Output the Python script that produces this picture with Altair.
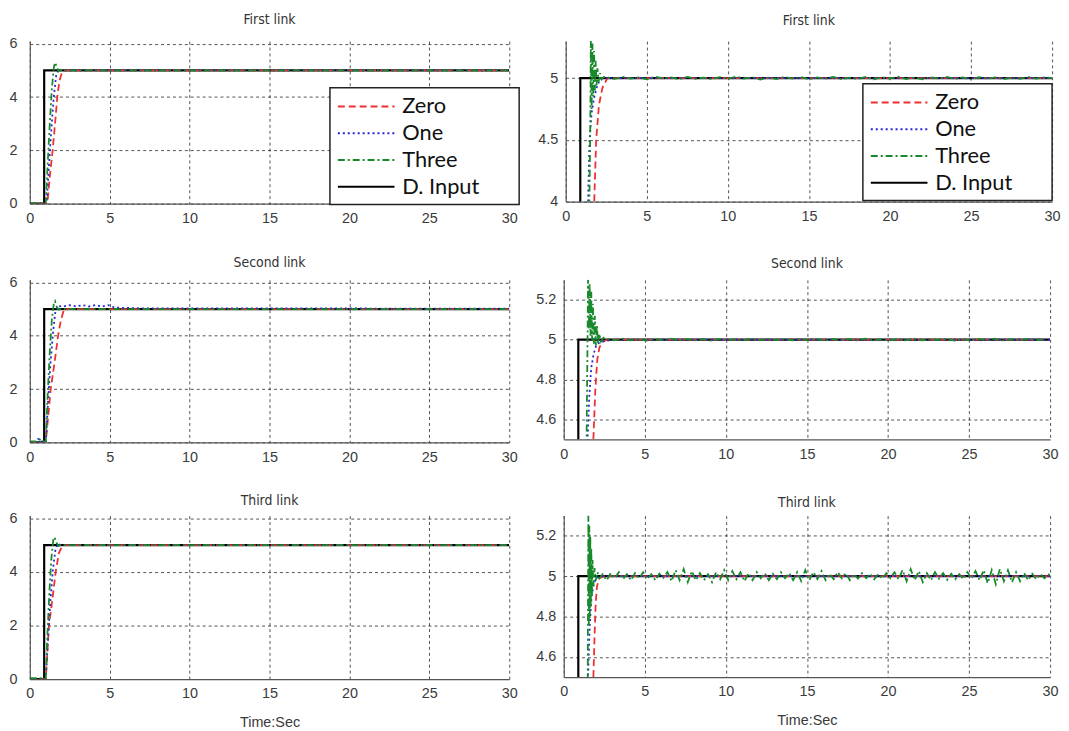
import altair as alt
import pandas as pd

# ---------------- data ----------------
SERIES = ["Zero", "One", "Three", "D. Input"]
COLORS = ["#ee3030", "#2424d8", "#198a2c", "#000000"]
DASHES = [[7, 4], [2, 3], [7, 3, 2, 3], [1, 0]]
WIDTHS = [1.8, 1.8, 1.8, 2.2]
DRAW_ORDER = ["D. Input", "Zero", "One", "Three"]

X_TICKS = [0, 5, 10, 15, 20, 25, 30]
LEFT_Y_TICKS = [0, 2, 4, 6]
R1_Y_TICKS = [4, 4.5, 5]
R23_Y_TICKS = [4.6, 4.8, 5, 5.2]
TITLES = ["First link", "Second link", "Third link"]
X_TITLE = "Time:Sec"

# desired input (same for every link)
INPUT = [(0, 0), (0.9, 0), (0.9, 5), (30, 5)]

# left column (full range 0..6)
L1_ZERO = [(0, 0), (1.1, 0), (1.25, 1.0), (1.43, 2.0), (1.58, 3.0), (1.72, 4.0), (1.85, 4.6), (2.0, 4.9), (2.15, 5.0), (30, 5.0)]
L1_ONE = [(0, 0), (1.05, 0), (1.2, 1.4), (1.35, 2.8), (1.5, 4.0), (1.65, 4.8), (1.8, 5.05), (1.95, 5.02), (2.2, 5.0), (30, 5.0)]
L1_THREE = [(0, 0.02), (1.0, 0.02), (1.12, 1.5), (1.25, 3.0), (1.38, 4.3), (1.5, 5.1), (1.58, 5.3), (1.68, 5.15), (1.8, 4.97), (1.95, 5.02), (2.2, 5.0), (30, 5.0)]

L2_ZERO = [(0, 0), (1.0, 0), (1.31, 2.0), (1.55, 3.0), (1.77, 4.0), (1.95, 4.6), (2.15, 5.0), (30, 5.0)]
L2_ONE = [(0, 0), (0.4, 0), (0.5, 0.12), (0.7, 0.12), (0.8, 0), (1.0, 0), (1.15, 1.6), (1.3, 3.0), (1.45, 4.1), (1.6, 4.9),
          (1.75, 5.12), (2.1, 5.1), (2.5, 5.15), (2.9, 5.1), (3.3, 5.15), (3.7, 5.1), (4.1, 5.15), (4.5, 5.1), (4.9, 5.15),
          (5.3, 5.06), (7, 5.03), (30, 5.02)]
L2_THREE = [(0, 0.03), (0.4, 0.03), (0.5, 0.1), (0.7, 0.1), (0.8, 0.03), (1.0, 0.03), (1.12, 1.8), (1.25, 3.4), (1.38, 4.6),
            (1.5, 5.2), (1.58, 5.3), (1.68, 5.1), (1.8, 4.98), (2.0, 5.02), (2.3, 5.0), (30, 5.0)]

L3_ZERO = [(0, 0), (1.0, 0), (1.2, 2.0), (1.42, 3.0), (1.62, 4.0), (1.82, 4.7), (2.05, 5.0), (30, 5.0)]
L3_ONE = [(0, 0), (1.0, 0), (1.15, 1.6), (1.3, 3.0), (1.45, 4.1), (1.6, 4.8), (1.75, 5.05), (1.95, 5.0), (30, 5.0)]
L3_THREE = [(0, 0.03), (1.0, 0.03), (1.1, 1.6), (1.22, 3.2), (1.35, 4.5), (1.47, 5.2), (1.55, 5.3), (1.65, 5.1), (1.8, 4.97),
            (2.0, 5.02), (2.3, 5.0), (30, 5.0)]

# right column (zoomed around the set point)
R1_ZERO = [(0, 0), (1.1, 0), (1.76, 4.0), (1.88, 4.5), (2.05, 4.78), (2.26, 4.92), (2.57, 5.0), (30, 5.0)]
R1_ONE = [(0, 0), (1.0, 0), (1.38, 4.0), (1.47, 4.5), (1.6, 4.72), (1.75, 4.84), (1.9, 4.92), (2.05, 4.97), (2.25, 5.0), (30, 5.0)]
R1_THREE = [(0, 0), (1.0, 0), (1.45, 3.9), (1.5, 4.4), (1.52, 4.7), (1.55, 5.3), (1.6, 4.75), (1.65, 5.28), (1.7, 4.85),
            (1.75, 5.22), (1.8, 4.9), (1.85, 5.14), (1.9, 4.94), (1.96, 5.08), (2.03, 4.97), (2.12, 5.04), (2.22, 4.99), (2.35, 5.01)]
R1_NOISE_START, R1_NOISE_STEP = 2.5, 0.5
R1_THREE_NOISE = [0.008, -0.006, 0.011, -0.004, 0.007, -0.01, 0.012, -0.003, 0.006, -0.009, 0.01, -0.005, 0.004, -0.008,
                  0.009, -0.006, 0.013, -0.004, 0.007, -0.011, 0.005, -0.007, 0.01, -0.003, 0.008, -0.009, 0.006, -0.005,
                  0.011, -0.008, 0.004, -0.006, 0.009, -0.01, 0.007, -0.004, 0.012, -0.007, 0.005, -0.009, 0.008, -0.003,
                  0.01, -0.006, 0.006, -0.011, 0.009, -0.005, 0.007, -0.008, 0.004, -0.006, 0.01, -0.004, 0.006, 0.0]

R2_ZERO = [(0, 0), (1.1, 0), (1.83, 4.5), (1.95, 4.75), (2.07, 4.9), (2.2, 4.96), (2.4, 4.99), (2.7, 5.0), (30, 5.0)]
R2_ONE = [(0, 0), (1.0, 0), (1.47, 4.5), (1.58, 4.72), (1.7, 4.86), (1.85, 4.93), (2.0, 4.97), (2.2, 4.985), (2.6, 4.995), (3.5, 5.0), (30, 5.0)]
R2_THREE = [(0, 0), (1.0, 0), (1.42, 4.6), (1.47, 5.0), (1.5, 5.3), (1.55, 5.05), (1.6, 5.28), (1.65, 5.02), (1.7, 5.24),
            (1.75, 5.0), (1.8, 5.18), (1.86, 4.98), (1.92, 5.12), (1.98, 4.97), (2.05, 5.07), (2.12, 4.98), (2.2, 5.03),
            (2.3, 4.99), (2.45, 5.01)]
R2_NOISE_START, R2_NOISE_STEP = 2.6, 0.5
R2_THREE_NOISE = [0.004, -0.003, 0.005, -0.004, 0.003, -0.005, 0.004, -0.002, 0.005, -0.003, 0.004, -0.004, 0.003, -0.005,
                  0.004, -0.003, 0.002, -0.004, 0.005, -0.003, 0.004, -0.002, 0.003, -0.004, 0.005, -0.003, 0.004, -0.005,
                  0.003, -0.002, 0.004, -0.004, 0.005, -0.003, 0.002, -0.004, 0.004, -0.003, 0.005, -0.004, 0.003, -0.002,
                  0.004, -0.005, 0.003, -0.003, 0.004, -0.002, 0.005, -0.004, 0.003, -0.003, 0.004, -0.002, 0.0]

R3_ZERO = [(0, 0), (1.1, 0), (1.83, 4.5), (1.9, 4.7), (1.97, 4.86), (2.05, 4.95), (2.2, 4.99), (2.5, 5.0), (30, 5.0)]
R3_ONE = [(0, 0), (1.0, 0), (1.5, 4.5), (1.6, 4.75), (1.72, 4.9), (1.85, 4.96), (2.0, 4.99), (2.3, 5.0), (30, 5.0)]
R3_THREE = [(0, 0), (1.0, 0), (1.48, 4.5), (1.52, 5.3), (1.55, 4.75), (1.58, 5.25), (1.61, 4.8), (1.64, 5.2), (1.67, 4.85),
            (1.7, 5.14), (1.74, 4.9), (1.78, 5.08), (1.83, 4.95), (1.9, 5.04), (1.98, 4.98), (2.08, 5.02), (2.2, 4.99)]
R3_NOISE_START, R3_NOISE_STEP = 2.4, 0.25
R3_THREE_NOISE = [0.01, -0.02, 0.015, -0.01, 0.02, -0.015, 0.01, -0.02,
                  0.015, -0.01, 0.02, -0.015, 0.01, -0.02, 0.012, -0.008,
                  0.02, -0.025, 0.03, -0.02, 0.035, -0.03, 0.025, -0.02,
                  0.015, -0.02, 0.01, -0.03, 0.02, -0.015, 0.03, -0.02,
                  0.025, -0.015, 0.02, -0.025, 0.015, -0.02, 0.02, -0.01,
                  0.015, -0.02, 0.012, -0.015, 0.02, -0.01, 0.015, -0.02,
                  0.02, -0.025, 0.03, -0.02, 0.02, -0.015, 0.025, -0.02,
                  0.012, -0.015, 0.02, -0.01, 0.015, -0.02, 0.01, -0.012,
                  0.015, -0.01, 0.012, -0.015, 0.01, -0.012, 0.015, -0.01,
                  0.02, -0.015, 0.03, -0.025, 0.035, -0.02, 0.025, -0.03,
                  0.015, -0.02, 0.02, -0.012, 0.015, -0.018, 0.012, -0.015,
                  0.01, -0.015, 0.02, -0.012, 0.025, -0.02, 0.03, -0.035,
                  0.03, -0.04, 0.035, -0.025, 0.03, -0.03, 0.02, -0.025,
                  0.015, -0.02, 0.012, -0.015, 0.01, -0.01, 0.008, 0.0]


def with_noise(points, start, step, noise, level=5.0):
    return list(points) + [(start + k * step, level + d) for k, d in enumerate(noise)]


def frame(zero, one, three):
    rows = []
    for name, pts in (("D. Input", INPUT), ("Zero", zero), ("One", one), ("Three", three)):
        for i, (t, y) in enumerate(pts):
            rows.append({"t": t, "y": y, "s": name, "i": i})
    return pd.DataFrame(rows)


DF_L1 = frame(L1_ZERO, L1_ONE, L1_THREE)
DF_L2 = frame(L2_ZERO, L2_ONE, L2_THREE)
DF_L3 = frame(L3_ZERO, L3_ONE, L3_THREE)
DF_R1 = frame(R1_ZERO, R1_ONE, with_noise(R1_THREE, R1_NOISE_START, R1_NOISE_STEP, R1_THREE_NOISE))
DF_R2 = frame(R2_ZERO, R2_ONE, with_noise(R2_THREE, R2_NOISE_START, R2_NOISE_STEP, R2_THREE_NOISE))
DF_R3 = frame(R3_ZERO, R3_ONE, with_noise(R3_THREE, R3_NOISE_START, R3_NOISE_STEP, R3_THREE_NOISE))

TITLE_FONT = "Liberation Sans Narrow, Arial Narrow, DejaVu Sans Condensed, Liberation Sans, sans-serif"
LABEL_FONT = "Liberation Sans, Arial, sans-serif"
PAD = "\u00a0\u00a0\u00a0\u2800"   # trailing room inside the legend box (last char keeps it from being trimmed)


def panel(df, ydom, yticks, w, h, title, toff, ylpad, legend_pos=None, xtitle=None):
    if legend_pos is not None:
        leg = alt.Legend(
            title=None, orient="none", legendX=legend_pos[0], legendY=legend_pos[1],
            symbolType="M-1,0H4.2", symbolSize=484, symbolStrokeWidth=2,
            labelFont="Lato", labelFontSize=22, labelColor="#111", labelOffset=42,
            labelExpr="datum.label + '" + PAD + "'",
            padding=7, rowPadding=4, strokeColor="#222", fillColor="white",
        )
    else:
        leg = None
    color = alt.Color("s:N", scale=alt.Scale(domain=SERIES, range=COLORS), legend=leg)
    dash = alt.StrokeDash("s:N", scale=alt.Scale(domain=SERIES, range=DASHES), legend=leg)
    if xtitle:
        xaxis = alt.Axis(values=X_TICKS, labelPadding=8, labelFlush=False, titlePadding=15, title=xtitle)
    else:
        xaxis = alt.Axis(values=X_TICKS, labelPadding=8, labelFlush=False, title=None)
    x = alt.X("t:Q", scale=alt.Scale(domain=[0, 30], nice=False, zero=False), axis=xaxis)
    y = alt.Y("y:Q", scale=alt.Scale(domain=ydom, nice=False, zero=False),
              axis=alt.Axis(values=yticks, format="~g", labelPadding=ylpad, labelFlush=False, title=None))
    layers = []
    for name in DRAW_ORDER:
        k = SERIES.index(name)
        layers.append(
            alt.Chart(df).transform_filter(alt.datum.s == name)
            .mark_line(clip=True, strokeWidth=WIDTHS[k], strokeCap="butt", strokeJoin="miter")
            .encode(x=x, y=y, color=color, strokeDash=dash, order=alt.Order("i:Q"))
        )
    return alt.layer(*layers).properties(
        width=w, height=h,
        title=alt.TitleParams(title, offset=toff, frame="group", font=TITLE_FONT, fontSize=14,
                              fontWeight="normal", color="#333"),
    )


LW, RW = 484, 491
LEFT_DOMAIN = [0, 6.1]
L1 = panel(DF_L1, LEFT_DOMAIN, LEFT_Y_TICKS, LW, 164, TITLES[0], 9, 13, legend_pos=(303, 47))
R1 = panel(DF_R1, [4, 5.3], R1_Y_TICKS, RW, 162, TITLES[0], 13, 8, legend_pos=(300, 43))
L2 = panel(DF_L2, LEFT_DOMAIN, LEFT_Y_TICKS, LW, 164, TITLES[1], 5, 13)
R2 = panel(DF_R2, [4.5, 5.3], R23_Y_TICKS, RW, 161, TITLES[1], 9, 8)
L3 = panel(DF_L3, LEFT_DOMAIN, LEFT_Y_TICKS, LW, 165, TITLES[2], 2, 13, xtitle=X_TITLE)
R3 = panel(DF_R3, [4.5, 5.3], R23_Y_TICKS, RW, 163, TITLES[2], 6, 8, xtitle=X_TITLE)

RES = dict(color="independent", strokeDash="independent")
row1 = alt.hconcat(L1, R1, spacing=17).resolve_scale(**RES)
row2 = alt.hconcat(L2, R2, spacing=17).resolve_scale(**RES)
row3 = alt.hconcat(L3, R3, spacing=17).resolve_scale(**RES)

chart = (
    alt.vconcat(row1, row2, row3, spacing=30)
    .resolve_scale(**RES)
    .properties(padding={"left": 0, "top": 1, "right": 0, "bottom": 0}, background="white")
    .configure_view(stroke=None)
    .configure_axis(
        domainColor="#555", domainWidth=1.2,
        gridColor="#000", gridDash=[3, 3], gridWidth=0.9, gridOpacity=0.75,
        ticks=False,
        labelFont=LABEL_FONT, labelFontSize=14.5, labelColor="#3a3a3a",
        titleFont=LABEL_FONT, titleFontSize=14.5, titleFontWeight="normal", titleColor="#3a3a3a",
    )
    .configure_legend(strokeWidth=1.5)
)

chart.save("out.html", embed_options={"renderer": "svg", "actions": False})
